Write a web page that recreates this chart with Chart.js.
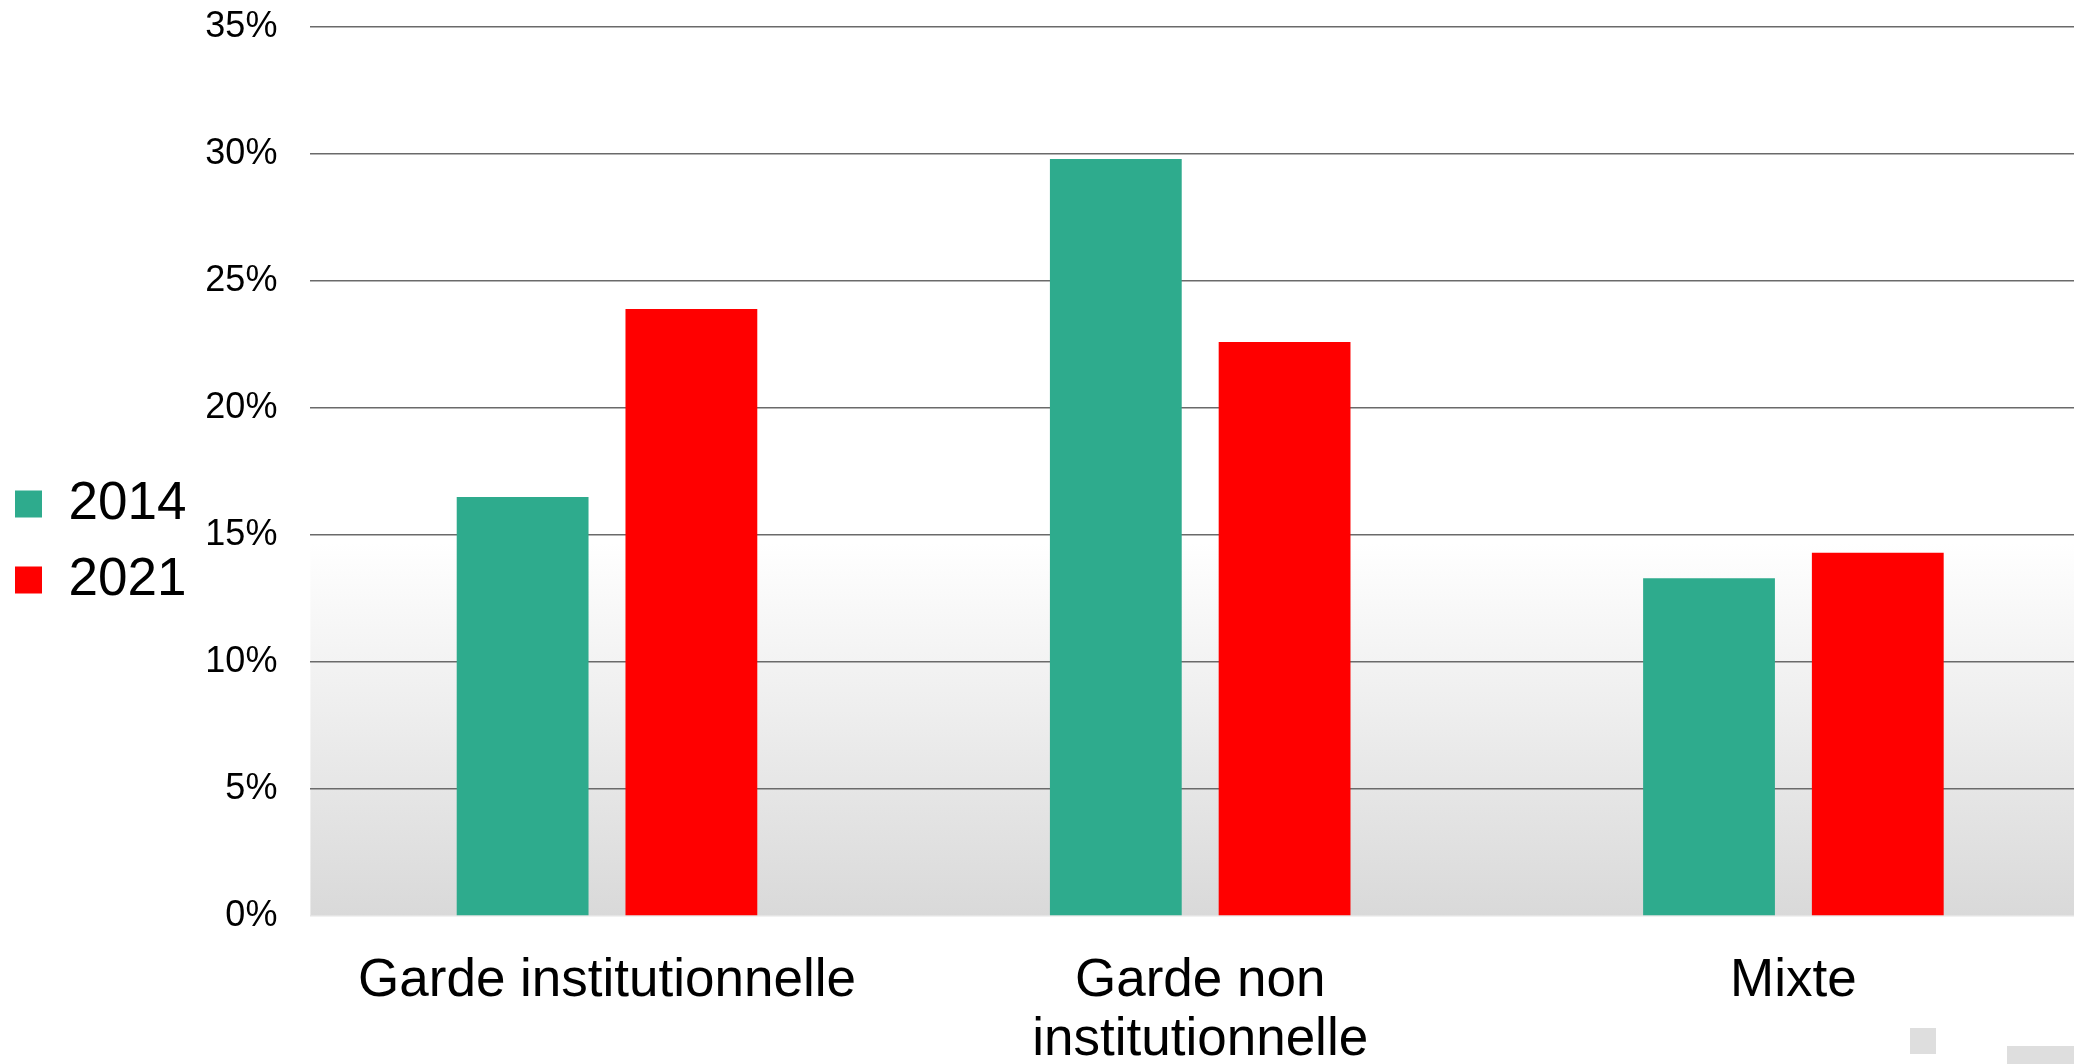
<!DOCTYPE html>
<html>
<head>
<meta charset="utf-8">
<script src="https://cdn.jsdelivr.net/npm/chart.js@4"></script>
<style>
  html, body { margin: 0; padding: 0; background: #fff; overflow: hidden; }
  body { width: 2074px; height: 1064px; position: relative; }
  canvas { position: absolute; left: 0; top: 0; }
  .deco { position: absolute; background: #dedede; }
</style>
</head>
<body>
<canvas id="chart" width="2090" height="1084"></canvas>
<div class="deco" style="left:1910px;top:1028px;width:26px;height:26px;"></div>
<div class="deco" style="left:2007px;top:1046px;width:67px;height:18px;"></div>
<script>
const categories = ['Garde institutionnelle', ['Garde non', 'institutionnelle'], 'Mixte'];
const values2014 = [16.5, 29.8, 13.3];
const values2021 = [23.9, 22.6, 14.3];
const yTicks = [0, 5, 10, 15, 20, 25, 30, 35];

// gradient behind the plot, white at the top to light grey at the bottom
const plotBackground = {
    id: 'plotBackground',
    beforeDraw(chart) {
        const { ctx, chartArea: a } = chart;
        const g = ctx.createLinearGradient(0, a.top, 0, a.bottom);
        g.addColorStop(0, '#ffffff');
        g.addColorStop(0.58, '#ffffff');
        g.addColorStop(1, '#d9d9d9');
        ctx.save();
        ctx.fillStyle = g;
        ctx.fillRect(a.left, a.top, a.right - a.left, a.bottom - a.top);
        ctx.restore();
    }
};

const ctx = document.getElementById('chart').getContext('2d');
new Chart(ctx, {
    type: 'bar',
    data: {
        labels: categories,
        datasets: [
            { label: '2014', data: values2014, backgroundColor: '#2eab8d' },
            { label: '2021', data: values2021, backgroundColor: '#ff0000' }
        ]
    },
    options: {
        responsive: false,
        animation: false,
        devicePixelRatio: 1,
        layout: { padding: { top: 0, left: -8, right: 0, bottom: 0 } },
        datasets: {
            bar: { categoryPercentage: 0.569, barPercentage: 0.781 }
        },
        plugins: {
            legend: {
                position: 'left',
                labels: {
                    boxWidth: 27,
                    boxHeight: 27,
                    padding: 23,
                    color: '#000',
                    font: { family: 'Liberation Sans, Arial, sans-serif', size: 53 }
                }
            },
            tooltip: { enabled: false }
        },
        scales: {
            x: {
                grid: { display: false },
                border: { display: false },
                afterFit(scale) {
                    scale.height = 168;
                },
                ticks: {
                    color: '#000',
                    padding: 27,
                    maxRotation: 0,
                    autoSkip: false,
                    font: { family: 'Liberation Sans, Arial, sans-serif', size: 53, lineHeight: 1.13 }
                }
            },
            y: {
                min: 0,
                max: 35,
                afterBuildTicks(scale) {
                    scale.ticks = yTicks.map(v => ({ value: v }));
                },
                afterFit(scale) {
                    scale.width = 114;
                    scale.paddingTop = 27;
                    scale.paddingBottom = 0;
                },
                grid: {
                    drawTicks: false,
                    lineWidth: 1.5,
                    color: c => c.tick && c.tick.value === 0 ? '#e4e4e4' : '#6a6a6a'
                },
                border: { display: false },
                ticks: {
                    color: '#000',
                    padding: 33,
                    font: { family: 'Liberation Sans, Arial, sans-serif', size: 36 },
                    callback: v => v + '%'
                }
            }
        }
    },
    plugins: [plotBackground]
});
</script>
</body>
</html>
